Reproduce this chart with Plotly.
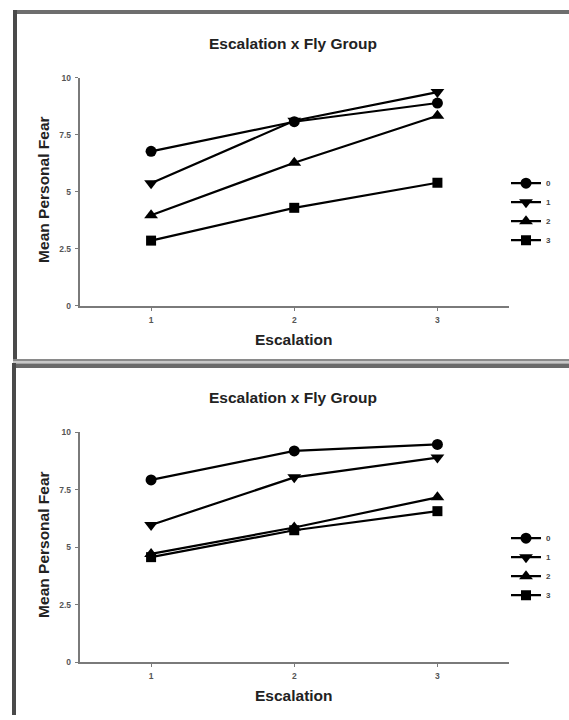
import plotly.graph_objects as go

W, H = 569, 720

# ---- data ----
escalation = [1, 2, 3]
x_ticks = [1, 2, 3]
y_ticks = [0, 2.5, 5, 7.5, 10]
y_tick_text = ["0", "2.5", "5", "7.5", "10"]
groups = ["0", "1", "2", "3"]

top_group0 = [6.78, 8.08, 8.90]
top_group1 = [5.38, 8.12, 9.38]
top_group2 = [3.97, 6.28, 8.34]
top_group3 = [2.86, 4.30, 5.40]

bottom_group0 = [7.93, 9.19, 9.47]
bottom_group1 = [5.97, 8.04, 8.90]
bottom_group2 = [4.71, 5.86, 7.17]
bottom_group3 = [4.57, 5.74, 6.57]

chart_title = "Escalation x Fly Group"
x_title = "Escalation"
y_title = "Mean Personal Fear"

# ---- styling ----
FONT = "Liberation Sans, Arial, sans-serif"
symbols = ["circle", "triangle-down", "triangle-up", "square"]
sizes = [11, 12, 12, 10]


def px(x):
    return x / W


def py(y):
    return 1 - y / H


fig = go.Figure()

panels = [
    ("x", "y", "legend", [top_group0, top_group1, top_group2, top_group3]),
    ("x2", "y2", "legend2", [bottom_group0, bottom_group1, bottom_group2, bottom_group3]),
]
for xa, ya, lg, series in panels:
    for i, (g, vals) in enumerate(zip(groups, series)):
        fig.add_trace(go.Scatter(
            x=escalation, y=vals, name=g, mode="lines+markers",
            xaxis=xa, yaxis=ya, legend=lg, cliponaxis=False,
            marker=dict(symbol=symbols[i], size=sizes[i], color="black"),
            line=dict(color="black", width=2.2),
        ))

axis_common = dict(
    showline=True, linecolor="#7a7a7a", linewidth=1.6,
    ticks="outside", ticklen=3, tickcolor="#7a7a7a", tickwidth=1,
    showgrid=False, zeroline=False, fixedrange=True,
    tickfont=dict(family=FONT, size=8.5, color="#555555", weight="bold"),
)

# pixel geometry
x_left, x_right = 79.5, 509
top_y0, top_y10 = 305, 74
bot_y0, bot_y10 = 666.5, 433.3

legend_common = dict(xanchor="left", yanchor="top",
                     font=dict(family=FONT, size=8, color="#444444", weight="bold"),
                     bgcolor="rgba(0,0,0,0)", borderwidth=0, tracegroupgap=0, itemwidth=30)

fig.update_layout(
    width=W, height=H,
    margin=dict(l=0, r=0, t=0, b=0),
    paper_bgcolor="white", plot_bgcolor="white",
    showlegend=True,
    xaxis=dict(domain=[px(x_left), px(x_right)], range=[0.5, 3.5], tickvals=x_ticks,
               anchor="y", ticklabelstandoff=2, **axis_common),
    yaxis=dict(domain=[py(top_y0), py(top_y10)], range=[0, 10], tickvals=y_ticks,
               ticktext=y_tick_text, anchor="x", ticklabelstandoff=2, **axis_common),
    xaxis2=dict(domain=[px(x_left), px(x_right)], range=[0.5, 3.5], tickvals=x_ticks,
                anchor="y2", ticklabelstandoff=2, **axis_common),
    yaxis2=dict(domain=[py(bot_y0), py(bot_y10)], range=[0, 10], tickvals=y_ticks,
                ticktext=y_tick_text, anchor="x2", ticklabelstandoff=2, **axis_common),
    legend=dict(x=px(506), y=py(166), **legend_common),
    legend2=dict(x=px(506), y=py(526), **legend_common),
)

annotations = []
for (ty, xty, yty) in [(39, 339, 188), (398, 700, 548)]:
    annotations.append(dict(text=chart_title, x=px(293), y=py(ty), xref="paper", yref="paper",
                            showarrow=False, xanchor="center", yanchor="middle",
                            font=dict(family=FONT, size=15.5, color="#222222", weight="bold")))
    annotations.append(dict(text=x_title, x=px(294), y=py(xty), xref="paper", yref="paper",
                            showarrow=False, xanchor="center", yanchor="middle",
                            font=dict(family=FONT, size=15.5, color="#222222", weight="bold")))
    annotations.append(dict(text=y_title, x=px(43.5), y=py(yty), xref="paper", yref="paper",
                            showarrow=False, xanchor="center", yanchor="middle", textangle=-90,
                            font=dict(family=FONT, size=15.5, color="#222222", weight="bold")))
fig.update_layout(annotations=annotations)


# frame borders (decorative)
def band(x0, x1, y0, y1, color):
    return dict(type="rect", xref="paper", yref="paper",
                x0=px(x0), x1=px(x1), y0=py(y1), y1=py(y0),
                fillcolor=color, line=dict(width=0), layer="above")


shapes = [
    band(13, 569, 5, 9, "#6e6e6e"),        # top panel top border
    band(13, 17, 5, 361, "#4a4a4a"),       # top panel left border
    band(13, 569, 359, 361, "#8a8a8a"),    # divider band
    band(13, 569, 361, 363.5, "#c8c8c8"),
    band(12, 569, 363.5, 368, "#6a6a6a"),
    band(12, 16, 363, 720, "#4a4a4a"),     # bottom panel left border
]
fig.update_layout(shapes=shapes)

fig.write_html("out.html", config={"displayModeBar": False},
               post_script="document.body.style.margin='0';document.body.style.overflow='hidden';")
